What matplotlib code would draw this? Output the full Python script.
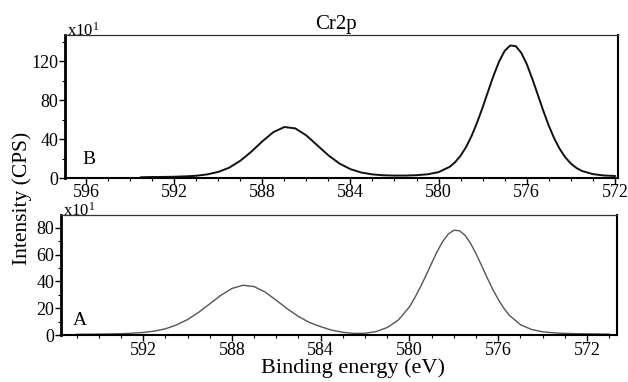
import matplotlib
matplotlib.use('Agg')
import matplotlib.pyplot as plt
from matplotlib.ticker import MultipleLocator

plt.rcParams['font.family'] = ['Liberation Serif', 'DejaVu Serif']
plt.rcParams['font.size'] = 13

# panel B (upper), intensity in units of x10 CPS
be_B = [593.5, 593.0, 592.5, 592.0, 591.5, 591.0, 590.5, 590.0, 589.5, 589.0,
        588.5, 588.0, 587.5, 587.0, 586.5, 586.0, 585.5, 585.0, 584.5, 584.0,
        583.5, 583.0, 582.5, 582.0, 581.5, 581.0, 580.5, 580.0, 579.5,
        579.25, 579.0, 578.75, 578.5, 578.25, 578.0, 577.75, 577.5, 577.25, 577.0,
        576.75, 576.5, 576.25, 576.0, 575.75, 575.5, 575.25, 575.0, 574.75, 574.5,
        574.25, 574.0, 573.75, 573.5, 573.0, 572.5, 572.0]
int_B = [0.8, 1.0, 1.1, 1.3, 1.7, 2.3, 3.7, 6.2, 10.6, 17.6,
         26.9, 37.5, 47.0, 52.3, 50.9, 43.7, 33.5, 23.3, 14.9, 9.1,
         5.6, 3.7, 2.8, 2.5, 2.5, 2.9, 3.8, 6.0, 11.4,
         16.2, 22.9, 31.8, 43.2, 56.9, 72.4, 89.0, 105.3, 119.7, 130.4,
         135.9, 135.3, 128.5, 117.0, 102.0, 85.6, 69.1, 53.8, 40.5, 29.7,
         21.2, 14.9, 10.4, 7.3, 4.0, 2.6, 2.1]

# panel A (lower)
be_A = [595.0, 594.5, 594.0, 593.5, 593.0, 592.5, 592.0, 591.5, 591.0, 590.5,
        590.0, 589.5, 589.0, 588.5, 588.0, 587.5, 587.0, 586.5, 586.0, 585.5,
        585.0, 584.5, 584.0, 583.5, 583.0, 582.5, 582.0, 581.5, 581.0, 580.5,
        580.0, 579.75, 579.5, 579.25, 579.0, 578.75, 578.5, 578.25, 578.0, 577.75,
        577.5, 577.25, 577.0, 576.75, 576.5, 576.25, 576.0, 575.75, 575.5,
        575.0, 574.5, 574.0, 573.5, 573.0, 572.5, 572.0, 571.5, 571.0]
int_A = [0.55, 0.6, 0.7, 0.8, 1.0, 1.3, 1.9, 2.9, 4.6, 7.5,
         11.5, 16.9, 23.2, 29.6, 34.7, 37.1, 36.1, 32.0, 25.9, 19.5,
         13.8, 9.3, 6.2, 3.6, 2.0, 1.2, 1.3, 2.6, 5.6, 11.2,
         21.0, 28.1, 36.0, 44.6, 53.6, 62.3, 69.8, 75.3, 78.1, 77.8,
         74.4, 68.4, 60.6, 51.7, 42.7, 34.1, 26.5, 20.0, 14.7,
         7.7, 4.1, 2.4, 1.6, 1.2, 1.0, 0.9, 0.8, 0.7]

xt_B = [596, 592, 588, 584, 580, 576, 572]
xt_A = [592, 588, 584, 580, 576, 572]
yt_B = [0, 40, 80, 120]
yt_A = [0, 20, 40, 60, 80]

fig = plt.figure(figsize=(6.28, 3.82), dpi=100)
axB = fig.add_axes([0.1035, 0.534, 0.8805, 0.3744])
axA = fig.add_axes([0.0971, 0.123, 0.8854, 0.3142])

axB.plot(be_B, int_B, color='#111111', lw=1.4)
axA.plot(be_A, int_A, color='#555555', lw=1.0)

axB.set_xlim(596.95, 571.86)
axB.set_ylim(0, 146.7)
axA.set_xlim(595.7, 570.65)
axA.set_ylim(0, 89.5)

axB.set_xticks(xt_B)
axA.set_xticks(xt_A)
axB.set_yticks(yt_B)
axA.set_yticks(yt_A)
axB.xaxis.set_minor_locator(MultipleLocator(1))
axA.xaxis.set_minor_locator(MultipleLocator(1))
axB.yaxis.set_minor_locator(MultipleLocator(20))
axA.yaxis.set_minor_locator(MultipleLocator(10))

for ax in (axB, axA):
    ax.tick_params(which='major', direction='out', length=4, width=1.0, pad=1, labelsize=13)
    ax.tick_params(which='minor', direction='out', length=2.5, width=0.8)
    ax.spines['left'].set_linewidth(2.0)
    ax.spines['bottom'].set_linewidth(1.5)
    ax.spines['right'].set_linewidth(1.5)
    ax.spines['top'].set_linewidth(0.9)
    ax.spines['top'].set_color('#333333')
    ax.text(0.004, 0.992, 'x10$\\mathregular{^1}$', transform=ax.transAxes,
            ha='left', va='baseline', fontsize=12)

axB.tick_params(axis='x', which='major', pad=0)

axB.text(0.043, 0.126, 'B', transform=axB.transAxes, ha='center', va='center', fontsize=14)
axA.text(0.034, 0.125, 'A', transform=axA.transAxes, ha='center', va='center', fontsize=14)

axB.set_title('Cr2p', fontsize=15, pad=4, x=0.49)
fig.text(0.035, 0.48, 'Intensity (CPS)', rotation=90, ha='center', va='center', fontsize=15.5)
fig.text(0.562, 0.037, 'Binding energy (eV)', ha='center', va='center', fontsize=16)

fig.savefig('out.png', dpi=100)
